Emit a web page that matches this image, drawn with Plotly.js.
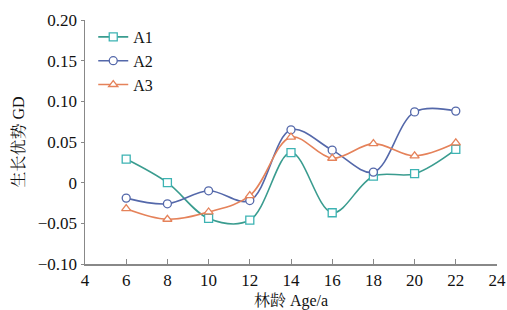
<!DOCTYPE html>
<html><head><meta charset="utf-8">
<script src="https://cdn.plot.ly/plotly-3.0.1.min.js"></script>
<style>html,body{margin:0;padding:0;background:#fff;}#c{width:507px;height:310px;}</style>
</head><body><div id="c"></div>
<script>
const ages = [6, 8, 10, 12, 14, 16, 18, 20, 22];
const A1 = [0.029, 0.000, -0.044, -0.046, 0.037, -0.037, 0.008, 0.011, 0.041];
const A2 = [-0.019, -0.026, -0.010, -0.022, 0.065, 0.040, 0.013, 0.087, 0.088];
const A3 = [-0.032, -0.045, -0.036, -0.016, 0.056, 0.030, 0.048, 0.033, 0.049];
const seriesNames = ['A1', 'A2', 'A3'];
const yTickVals = [-0.10, -0.05, 0, 0.05, 0.10, 0.15, 0.20];
const yTickText = ['\u22120.10', '\u22120.05', '0', '0.05', '0.10', '0.15', '0.20'];
const xTickVals = [4, 6, 8, 10, 12, 14, 16, 18, 20, 22, 24];

const font = "'Liberation Serif', 'Noto Serif CJK SC', 'Noto Sans CJK SC', serif";
function tr(name, y, color, mcolor, symbol) {
  return {x: ages, y: y, name: name, type: 'scatter', mode: 'lines+markers',
    line: {color: color, width: 1.6, shape: 'spline', smoothing: 1},
    marker: {symbol: symbol, size: 8, color: '#ffffff', line: {color: mcolor, width: 1.3}}};
}
const data = [
  tr(seriesNames[0], A1, '#3a9c8f', '#3db3b3', 'square'),
  tr(seriesNames[1], A2, '#5468aa', '#5468aa', 'circle'),
  tr(seriesNames[2], A3, '#e5825a', '#e5825a', 'triangle-up')
];
const layout = {
  width: 507, height: 310,
  margin: {l: 85, r: 10, t: 20, b: 46},
  paper_bgcolor: '#fff', plot_bgcolor: '#fff',
  font: {family: font, size: 17, color: '#111'},
  showlegend: true,
  legend: {x: 0.02, y: 1.0, xanchor: 'left', yanchor: 'top', bgcolor: 'rgba(0,0,0,0)',
    font: {family: font, size: 16, color: '#111'}, itemwidth: 30, tracegroupgap: 0},
  xaxis: {range: [4, 24], tickvals: xTickVals, showgrid: false, zeroline: false,
    showline: true, linecolor: '#888', linewidth: 1.5, ticks: 'inside', ticklen: 5, tickcolor: '#888',
    tickfont: {family: font, size: 17}, mirror: false,
    title: {text: '林龄 Age/a', font: {family: font, size: 16}, standoff: 7}},
  yaxis: {range: [-0.10, 0.20], tickvals: yTickVals, ticktext: yTickText, showgrid: false, zeroline: false,
    showline: true, linecolor: '#888', linewidth: 1.5, ticks: 'outside', ticklen: 3, tickcolor: '#888',
    tickfont: {family: font, size: 17}, mirror: false,
    title: {text: '生长优势 GD', font: {family: font, size: 16}, standoff: 9}}
};
Plotly.newPlot('c', data, layout, {displayModeBar: false, staticPlot: true});
</script></body></html>
